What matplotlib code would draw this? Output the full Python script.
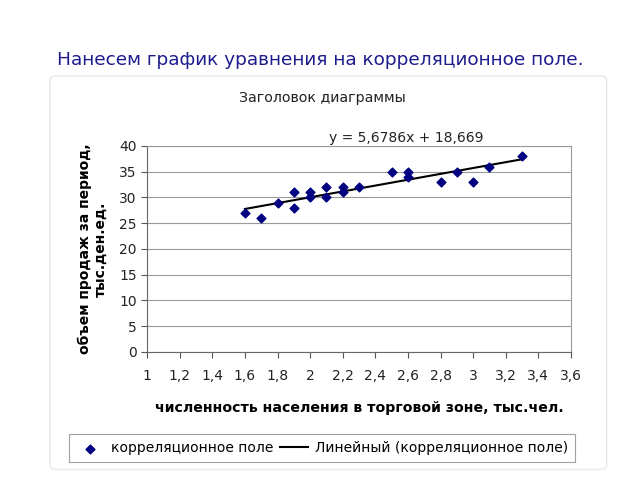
import matplotlib.pyplot as plt
from matplotlib.patches import FancyBboxPatch
from matplotlib.ticker import FuncFormatter

# correlation field: population (thousand people) vs sales volume
population = [1.6, 1.7, 1.8, 1.9, 1.9, 2.0, 2.0, 2.1, 2.1, 2.2,
              2.2, 2.3, 2.5, 2.6, 2.6, 2.8, 2.9, 3.0, 3.1, 3.3]
sales = [27, 26, 29, 31, 28, 31, 30, 32, 30, 32,
         31, 32, 35, 35, 34, 33, 35, 33, 36, 38]

slope = 5.6786
intercept = 18.669

x_ticks = [1, 1.2, 1.4, 1.6, 1.8, 2, 2.2, 2.4, 2.6, 2.8, 3, 3.2, 3.4, 3.6]
y_ticks = [0, 5, 10, 15, 20, 25, 30, 35, 40]

plt.rcParams['font.family'] = ['DejaVu Sans']

fig = plt.figure(figsize=(6.4, 4.8), dpi=100)

# light frame of the chart area (behind everything)
frame = FancyBboxPatch((0.078, 0.022), 0.87, 0.82, boxstyle='round,pad=0,rounding_size=0.01',
                       transform=fig.transFigure, facecolor='none', edgecolor='#e8e8e8',
                       lw=1, zorder=-1)
fig.patches.append(frame)

fig.text(0.5, 0.875, 'Нанесем график уравнения на корреляционное поле.',
         ha='center', va='center', fontsize=13.3, color='#1c1c8c')
fig.text(0.503, 0.795, 'Заголовок диаграммы', ha='center', va='center', fontsize=10.2, color='#222222')

ax = fig.add_axes([0.23, 0.267, 0.662, 0.429])
ax.patch.set_alpha(0)

ax.scatter(population, sales, marker='D', s=20, color='#000080', zorder=3,
           label='корреляционное поле')
x_fit = [min(population), max(population)]
y_fit = [slope * v + intercept for v in x_fit]
ax.plot(x_fit, y_fit, color='black', lw=1.5, zorder=2,
        label='Линейный (корреляционное поле)')

ax.set_xlim(1, 3.6)
ax.set_ylim(0, 40)
ax.set_xticks(x_ticks)
ax.set_yticks(y_ticks)
ax.xaxis.set_major_formatter(FuncFormatter(lambda v, p: ('%g' % v).replace('.', ',')))
ax.tick_params(axis='both', labelsize=10, color='#555555', length=4, labelcolor='#222222')
ax.tick_params(axis='x', pad=8)
ax.grid(axis='y', color='#999999', lw=0.8)
ax.set_axisbelow(True)
for side in ['top', 'right']:
    ax.spines[side].set_color('#999999')
for side in ['left', 'bottom']:
    ax.spines[side].set_color('#666666')

ax.set_xlabel('численность населения в торговой зоне, тыс.чел.', fontsize=10.2,
              fontweight='bold', labelpad=13)
ax.set_ylabel('объем продаж за период,\nтыс.ден.ед.', fontsize=10, fontweight='bold',
              labelpad=8)

ax.text(2.59, 41.6, 'y = 5,6786x + 18,669', ha='center', va='center', fontsize=10,
        color='#222222')

leg = fig.legend(loc='center', bbox_to_anchor=(0.503, 0.066), ncol=2, fontsize=10,
                 frameon=True, fancybox=False, edgecolor='#888888', handlelength=2,
                 columnspacing=0.5, handletextpad=0.5, borderpad=0.5)
leg.get_frame().set_linewidth(0.8)

fig.savefig('out.png', dpi=100)
